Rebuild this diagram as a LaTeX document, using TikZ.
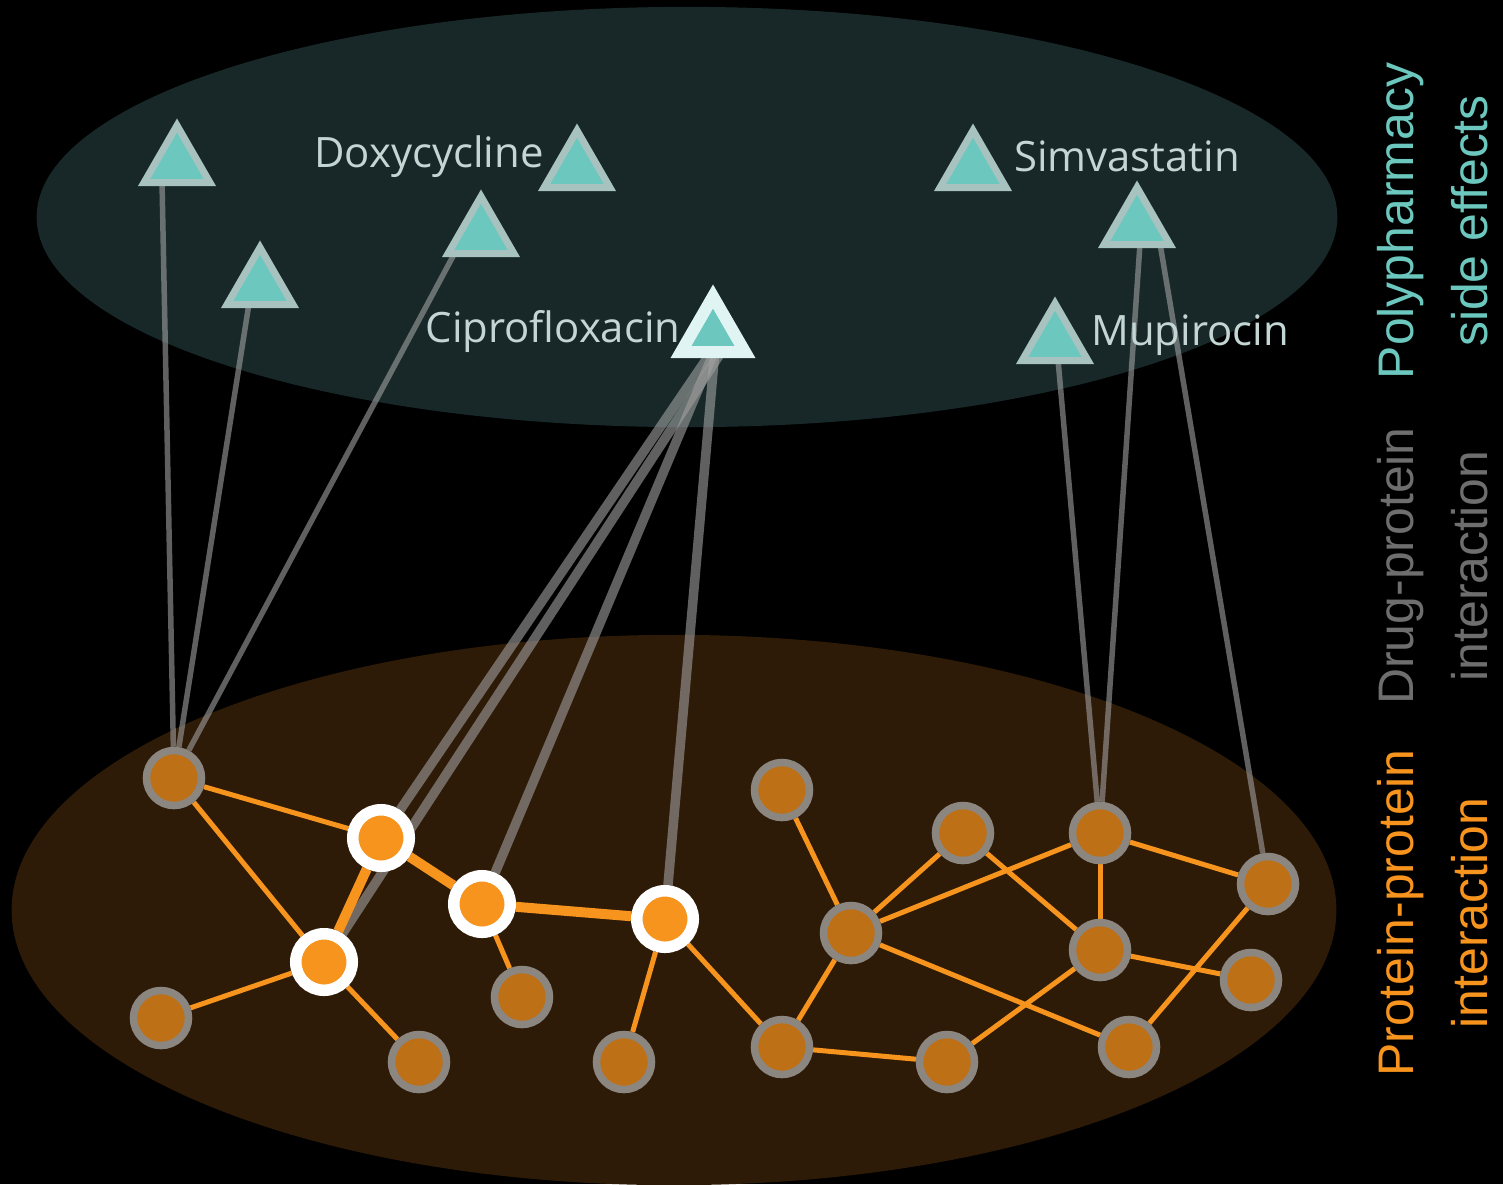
\documentclass[tikz,border=0pt]{standalone}
\usepackage{fontspec}
\setmainfont{Open Sans}
\newfontfamily\sidefont{Liberation Sans}
\usetikzlibrary{shapes.geometric,calc}
\definecolor{bgtop}{HTML}{182828}
\definecolor{bgbot}{HTML}{2E1B07}
\definecolor{drugfill}{HTML}{6CC8BE}
\definecolor{drugring}{HTML}{A8C2C0}
\definecolor{ciproring}{HTML}{E0F4F4}
\definecolor{protfill}{HTML}{BD7016}
\definecolor{protring}{HTML}{8C8680}
\definecolor{hfill}{HTML}{F7941E}
\definecolor{ppicol}{HTML}{F7941E}
\definecolor{dpicol}{HTML}{A0A0A0}
\definecolor{labcol}{HTML}{C4D6D4}
\definecolor{sidegray}{HTML}{6E6E6E}
\pgfdeclarelayer{bglayer}
\pgfdeclarelayer{edgelayer}
\pgfsetlayers{bglayer,edgelayer,main}
\tikzset{
  drug/.style={regular polygon, regular polygon sides=3, minimum size=0.76cm, inner sep=0pt, outer sep=0pt, fill=drugfill, draw=drugring, line width=0.07cm},
  ciprodrug/.style={drug, minimum size=0.74cm, draw=ciproring, line width=0.12cm},
  prot/.style={circle, minimum size=0.55cm, inner sep=0pt, fill=protfill, draw=protring, line width=0.075cm},
  hprot/.style={circle, minimum size=0.565cm, inner sep=0pt, fill=hfill, draw=white, line width=0.115cm},
  ppi/.style={draw=ppicol, line width=0.05cm},
  ppithick/.style={draw=ppicol, line width=0.10cm},
  dpi/.style={draw=dpicol, line width=0.055cm, draw opacity=0.6},
  dpithick/.style={draw=dpicol, line width=0.095cm, draw opacity=0.6},
  druglabel/.style={text=labcol, font=\fontsize{11.9}{14}\selectfont, anchor=base, inner sep=0pt},
  sidelabel/.style={font=\sidefont\fontsize{14.2}{20.8}\selectfont, rotate=90, anchor=base, align=center, inner sep=0pt}
}
\begin{document}
\begin{tikzpicture}[x=0.01cm,y=-0.01cm]
\useasboundingbox (0,0) rectangle (1503,1184);
\begin{pgfonlayer}{bglayer}
\fill[black] (0,0) rectangle (1503,1184);
\fill[bgtop] (687,217) ellipse [x radius=6.5cm, y radius=2.1cm];
\fill[bgbot] (674,910) ellipse [x radius=6.62cm, y radius=2.75cm];
\end{pgfonlayer}

% proteins
\node[prot] (p1) at (174,778) {};
\node[hprot] (h1) at (381,838) {};
\node[hprot] (h2) at (324,962) {};
\node[hprot] (h3) at (482,904) {};
\node[hprot] (h4) at (665,919) {};
\node[prot] (p2) at (161,1018) {};
\node[prot] (p3) at (419,1062) {};
\node[prot] (p4) at (522,997) {};
\node[prot] (p5) at (624,1062) {};
\node[prot] (p6) at (782,790) {};
\node[prot] (p7) at (851,933) {};
\node[prot] (p8) at (963,833) {};
\node[prot] (p9) at (1100,833) {};
\node[prot] (p10) at (1268,884) {};
\node[prot] (p11) at (1100,950) {};
\node[prot] (p12) at (1251,980) {};
\node[prot] (p13) at (782,1047) {};
\node[prot] (p14) at (947,1062) {};
\node[prot] (p15) at (1129,1047) {};

% drugs
\node[drug] (t1) at (177,163.5) {};
\node[drug] (t2) at (577,168.5) {};
\node[drug] (t3) at (481,234.5) {};
\node[drug] (t4) at (260,285.5) {};
\node[ciprodrug] (cipro) at (713,333.5) {};
\node[drug] (simv) at (973,168.5) {};
\node[drug] (t6) at (1137,225.5) {};
\node[drug] (mup) at (1055,341.5) {};

% drug labels
\node[druglabel] (ldoxy) at (429,167) {Doxycycline};
\node[druglabel] (lsimv) at (1127,171) {Simvastatin};
\node[druglabel] (lcipro) at (553,342) {Ciprofloxacin};
\node[druglabel] (lmup) at (1190,345) {Mupirocin};

% side labels
\node[sidelabel, text=drugfill] (lpoly) at (1487,221) {Polypharmacy\\side effects};
\node[sidelabel, text=sidegray] (ldpi) at (1487,566) {Drug-protein\\interaction};
\node[sidelabel, text=ppicol] (lppi) at (1487,913) {Protein-protein\\interaction};

\begin{pgfonlayer}{edgelayer}
% drug-protein interactions
\draw[dpi] ($(t1)+(-15,18)$) -- (p1);
\draw[dpi] ($(t4)+(-11,18)$) -- (p1);
\draw[dpi] ($(t3)+(-26,18)$) -- (p1);
\draw[dpithick] ($(cipro)+(0,16)$) -- (h1);
\draw[dpithick] ($(cipro)+(10,16)$) -- (h2);
\draw[dpithick] ($(cipro)+(2,16)$) -- (h3);
\draw[dpithick] ($(cipro)+(2,16)$) -- (h4);
\draw[dpi] ($(mup)+(3,18)$) -- (p9);
\draw[dpi] ($(t6)+(3,18)$) -- (p9);
\draw[dpi] ($(t6)+(23,18)$) -- (p10);
% protein-protein interactions
\draw[ppi] (p1) -- (h1);
\draw[ppi] (p1) -- (h2);
\draw[ppithick] (h1) -- (h2);
\draw[ppithick] (h1) -- (h3);
\draw[ppithick] (h3) -- (h4);
\draw[ppi] (h2) -- (p2);
\draw[ppi] (h2) -- (p3);
\draw[ppi] (h3) -- (p4);
\draw[ppi] (h4) -- (p5);
\draw[ppi] (h4) -- (p13);
\draw[ppi] (p6) -- (p7);
\draw[ppi] (p7) -- (p8);
\draw[ppi] (p7) -- (p9);
\draw[ppi] (p7) -- (p13);
\draw[ppi] (p7) -- (p15);
\draw[ppi] (p8) -- (p11);
\draw[ppi] (p9) -- (p11);
\draw[ppi] (p9) -- (p10);
\draw[ppi] (p11) -- (p12);
\draw[ppi] (p11) -- (p14);
\draw[ppi] (p10) -- (p15);
\draw[ppi] (p13) -- (p14);
\end{pgfonlayer}
\end{tikzpicture}
\end{document}
